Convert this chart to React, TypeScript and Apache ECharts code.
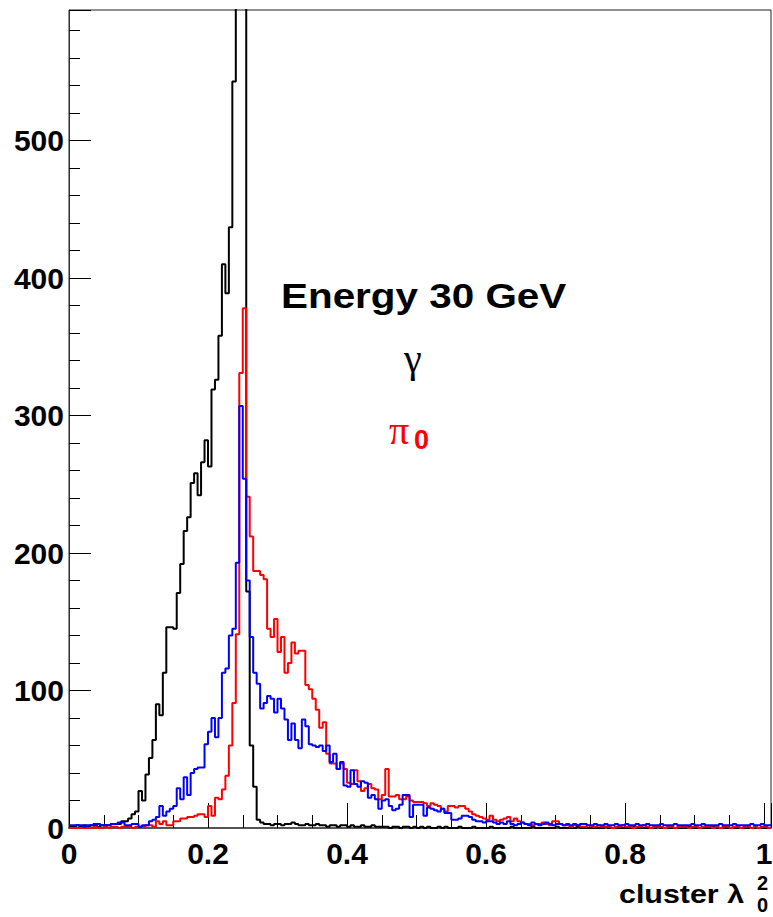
import React, { useEffect, useRef } from "react";
import * as echarts from "echarts";

// Histogram binning: 202 bins of 0.005 covering 0 – 1.01
const BIN_WIDTH = 0.005;
const X_MIN = 0;
const X_MAX = 1.01;
const Y_MAX = 595;

// Photon (gamma) clusters, counts per bin
const gammaCounts: number[] = [
  1, 1, 2, 1, 2, 1, 2, 2, 1, 2,
  2, 2, 3, 3, 3, 5, 5, 7, 10, 12,
  27, 20, 39, 51, 64, 90, 82, 113, 146, 146,
  145, 171, 192, 216, 226, 251, 258, 242, 266, 282,
  263, 319, 326, 358, 410, 389, 437, 543, 640, 720,
  690, 172, 60, 30, 6, 4, 3, 3, 2, 3,
  3, 2, 3, 3, 4, 3, 2, 2, 3, 2,
  2, 3, 2, 2, 1, 2, 2, 1, 2, 2,
  1, 2, 1, 1, 2, 1, 1, 2, 1, 1,
  1, 1, 0, 1, 1, 0, 1, 1, 0, 1,
  0, 1, 0, 1, 0, 0, 1, 0, 1, 0,
  0, 0, 1, 0, 0, 0, 1, 0, 0, 0,
  0, 1, 0, 0, 0, 0, 0, 1, 0, 0,
  0, 0, 0, 1, 0, 0, 0, 0, 0, 0,
  1, 0, 0, 0, 0, 0, 1, 0, 0, 0,
  0, 0, 0, 0, 1, 0, 0, 0, 0, 0,
  0, 0, 1, 0, 0, 0, 0, 0, 0, 1,
  0, 0, 0, 0, 0, 0, 0, 0, 1, 0,
  0, 0, 0, 0, 0, 1, 0, 0, 0, 0,
  0, 0, 0, 0, 0, 0, 0, 0, 0, 0,
  0, 0,
];

// Neutral pion clusters, counts per bin
const pi0Counts: number[] = [
  0, 0, 0, 0, 0, 0, 0, 1, 0, 0,
  1, 0, 1, 1, 0, 1, 1, 1, 0, 1,
  1, 1, 2, 2, 1, 5, 3, 5, 2, 2,
  5, 5, 7, 7, 8, 8, 9, 10, 10, 8,
  16, 9, 22, 21, 28, 38, 60, 91, 141, 331,
  378, 241, 212, 187, 187, 184, 181, 145, 139, 152,
  128, 139, 113, 120, 135, 127, 129, 129, 104, 101,
  94, 86, 73, 77, 54, 47, 47, 43, 47, 43,
  33, 32, 42, 34, 27, 29, 32, 29, 28, 21,
  24, 43, 23, 23, 24, 21, 21, 23, 20, 19,
  19, 19, 18, 16, 18, 17, 16, 14, 12, 16,
  16, 15, 16, 16, 14, 12, 10, 9, 8, 7,
  6, 9, 6, 5, 6, 7, 8, 5, 7, 5,
  4, 3, 3, 2, 3, 3, 4, 3, 2, 5,
  5, 3, 2, 2, 1, 2, 2, 1, 1, 2,
  1, 1, 2, 1, 1, 1, 0, 1, 1, 2,
  1, 1, 0, 1, 1, 2, 1, 0, 1, 1,
  1, 0, 1, 1, 0, 1, 1, 1, 0, 1,
  1, 0, 1, 1, 1, 0, 1, 0, 1, 1,
  0, 1, 1, 0, 1, 1, 0, 1, 0, 1,
  1, 0,
];

// Third sample (blue outline), counts per bin
const blueCounts: number[] = [
  2, 2, 2, 2, 1, 2, 2, 3, 3, 2,
  2, 2, 3, 3, 4, 4, 2, 2, 3, 3,
  1, 2, 2, 5, 6, 8, 16, 9, 12, 14,
  16, 29, 21, 37, 24, 40, 43, 44, 44, 61,
  70, 80, 66, 80, 113, 116, 140, 145, 193, 307,
  254, 180, 139, 113, 105, 87, 91, 96, 94, 84,
  94, 87, 79, 64, 76, 64, 58, 79, 74, 61,
  60, 59, 60, 56, 60, 48, 54, 43, 48, 31,
  30, 42, 32, 30, 34, 33, 22, 24, 21, 14,
  20, 21, 16, 13, 14, 17, 24, 24, 8, 17,
  17, 17, 9, 15, 14, 13, 12, 14, 11, 11,
  6, 6, 7, 9, 9, 8, 6, 5, 5, 4,
  5, 5, 4, 3, 4, 3, 5, 3, 2, 3,
  4, 3, 2, 4, 3, 2, 3, 4, 3, 2,
  3, 3, 2, 3, 2, 3, 2, 3, 3, 2,
  2, 3, 2, 2, 3, 2, 2, 3, 2, 2,
  3, 2, 2, 3, 2, 2, 3, 2, 2, 2,
  3, 2, 2, 2, 3, 2, 2, 2, 2, 3,
  2, 2, 3, 2, 2, 2, 2, 3, 2, 2,
  2, 3, 2, 2, 2, 2, 3, 2, 2, 3,
  2, 2,
];

const xTickLabels = ["0", "0.2", "0.4", "0.6", "0.8", "1"];
const yTickLabels = ["0", "100", "200", "300", "400", "500"];
const X_MAJOR = 0.2;
const X_MINOR = 0.05;
const Y_MAJOR = 100;
const Y_MINOR = 20;

const SANS = '"Liberation Sans", Arial, Helvetica, sans-serif';
const SERIF = '"Liberation Serif", "DejaVu Serif", serif';

// Left bin edges paired with contents, closed at the right edge of the last bin
function histSteps(counts: number[]): number[][] {
  const pts = counts.map((c, i) => [X_MIN + i * BIN_WIDTH, c]);
  pts.push([X_MIN + counts.length * BIN_WIDTH, counts[counts.length - 1]]);
  return pts;
}

function majorLabel(v: number, step: number, labels: string[]): string {
  const idx = Math.round(v / step);
  if (Math.abs(v - idx * step) > step * 1e-4) return "";
  return idx >= 0 && idx < labels.length ? labels[idx] : "";
}

export default function App() {
  const ref = useRef<HTMLDivElement>(null);

  useEffect(() => {
    if (!ref.current) return;
    const chart = echarts.init(ref.current, undefined, { renderer: "svg" });

    const tickStyle = { color: "#000", width: 1 };

    const option: echarts.EChartsOption = {
      animation: false,
      backgroundColor: "#fff",
      grid: {
        left: 69,
        right: 2,
        top: 10,
        bottom: 89,
        show: true,
        borderColor: "#222",
        borderWidth: 1,
        backgroundColor: "transparent",
        containLabel: false,
        outerBoundsMode: "none",
      } as any,
      xAxis: [
        {
          type: "value",
          min: X_MIN,
          max: X_MAX,
          interval: X_MAJOR,
          position: "bottom",
          axisLine: { show: true, onZero: false, lineStyle: { color: "#555", width: 2 } },
          axisTick: { show: true, inside: true, length: 25, lineStyle: tickStyle },
          axisLabel: {
            show: true,
            margin: 10,
            color: "#000",
            fontFamily: SANS,
            fontWeight: "bold",
            fontSize: 30,
            formatter: (v: number) => majorLabel(v, X_MAJOR, xTickLabels),
          },
          splitLine: { show: false },
        },
        {
          type: "value",
          min: X_MIN,
          max: X_MAX,
          interval: X_MINOR,
          position: "bottom",
          axisLine: { show: false, onZero: false },
          axisTick: { show: true, inside: true, length: 13, lineStyle: tickStyle },
          axisLabel: { show: false },
          splitLine: { show: false },
        },
      ],
      yAxis: [
        {
          type: "value",
          min: 0,
          max: Y_MAX,
          interval: Y_MAJOR,
          position: "left",
          axisLine: { show: true, onZero: false, lineStyle: { color: "#333", width: 1 } },
          axisTick: { show: true, inside: true, length: 22, lineStyle: tickStyle },
          axisLabel: {
            show: true,
            margin: 5,
            color: "#000",
            fontFamily: SANS,
            fontWeight: "bold",
            fontSize: 30,
            formatter: (v: number) => majorLabel(v, Y_MAJOR, yTickLabels),
          },
          splitLine: { show: false },
        },
        {
          type: "value",
          min: 0,
          max: Y_MAX,
          interval: Y_MINOR,
          position: "left",
          axisLine: { show: false, onZero: false },
          axisTick: { show: true, inside: true, length: 11, lineStyle: tickStyle },
          axisLabel: { show: false },
          splitLine: { show: false },
        },
      ],
      series: [
        {
          name: "γ",
          type: "line",
          step: "end",
          xAxisIndex: 0,
          yAxisIndex: 0,
          data: histSteps(gammaCounts),
          showSymbol: false,
          symbol: "none",
          clip: true,
          silent: true,
          lineStyle: { color: "#000", width: 2 },
          z: 2,
        },
        {
          name: "π0",
          type: "line",
          step: "end",
          xAxisIndex: 0,
          yAxisIndex: 0,
          data: histSteps(pi0Counts),
          showSymbol: false,
          symbol: "none",
          clip: true,
          silent: true,
          lineStyle: { color: "#ff0000", width: 2 },
          z: 3,
        },
        {
          name: "other",
          type: "line",
          step: "end",
          xAxisIndex: 0,
          yAxisIndex: 0,
          data: histSteps(blueCounts),
          showSymbol: false,
          symbol: "none",
          clip: true,
          silent: true,
          lineStyle: { color: "#0000ff", width: 2 },
          z: 4,
        },
      ],
      graphic: [
        {
          type: "text",
          x: 281,
          y: 296,
          scaleX: 1.155,
          style: {
            text: "Energy 30 GeV",
            fontFamily: SANS,
            fontWeight: "bold",
            fontSize: 35,
            fill: "#000",
            verticalAlign: "middle",
          },
        },
        {
          type: "text",
          x: 404,
          y: 358,
          style: {
            text: "γ",
            fontFamily: SERIF,
            fontSize: 40,
            fill: "#000",
            verticalAlign: "middle",
          },
        },
        {
          type: "text",
          x: 389,
          y: 430,
          style: {
            text: "π",
            fontFamily: SERIF,
            fontSize: 40,
            fill: "#ff0000",
            verticalAlign: "middle",
          },
        },
        {
          type: "text",
          x: 414,
          y: 440,
          style: {
            text: "0",
            fontFamily: SANS,
            fontWeight: "bold",
            fontSize: 27,
            fill: "#ff0000",
            verticalAlign: "middle",
          },
        },
        {
          type: "text",
          x: 619,
          y: 894,
          scaleX: 1.17,
          style: {
            text: "cluster λ",
            fontFamily: SANS,
            fontWeight: "bold",
            fontSize: 26,
            fill: "#000",
            verticalAlign: "middle",
          },
        },
        {
          type: "text",
          x: 757,
          y: 883,
          style: {
            text: "2",
            fontFamily: SANS,
            fontWeight: "bold",
            fontSize: 20,
            fill: "#000",
            verticalAlign: "middle",
          },
        },
        {
          type: "text",
          x: 757,
          y: 905,
          style: {
            text: "0",
            fontFamily: SANS,
            fontWeight: "bold",
            fontSize: 20,
            fill: "#000",
            verticalAlign: "middle",
          },
        },
      ],
    };

    chart.setOption(option);
    return () => chart.dispose();
  }, []);

  return (
    <div
      ref={ref}
      style={{ position: "fixed", left: 0, top: 0, width: 773, height: 917, background: "#fff" }}
    />
  );
}
